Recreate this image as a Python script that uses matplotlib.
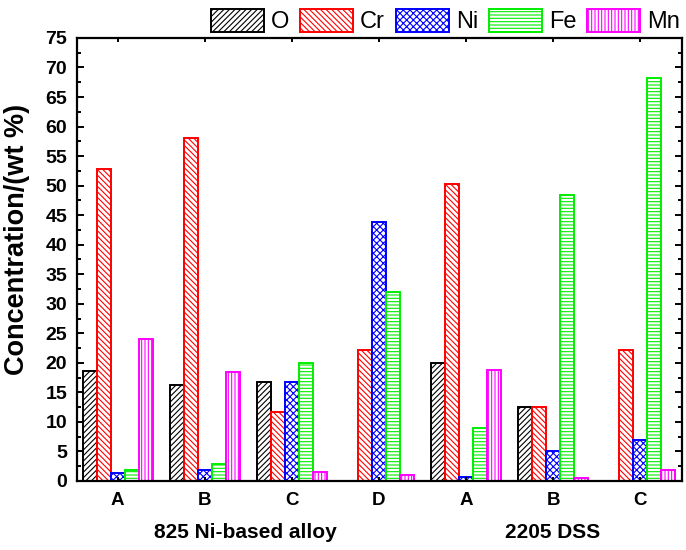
import numpy as np
import matplotlib
matplotlib.use("Agg")
import matplotlib.pyplot as plt
from matplotlib.ticker import MultipleLocator

plt.rcParams['font.family'] = ['Liberation Sans', 'DejaVu Sans']
plt.rcParams['hatch.linewidth'] = 0.8

# === Data ===
samples = ["A", "B", "C", "D", "A", "B", "C"]
elements = ["O", "Cr", "Ni", "Fe", "Mn"]
O = [18.6, 16.3, 16.8, 0.0, 19.9, 12.5, 0.0]
Cr = [52.8, 58.0, 11.6, 22.2, 50.3, 12.6, 22.2]
Ni = [1.3, 1.9, 16.7, 43.8, 0.7, 5.1, 6.9]
Fe = [1.9, 2.8, 19.9, 32.0, 8.9, 48.4, 68.3]
Mn = [24.0, 18.4, 1.5, 1.0, 18.8, 0.5, 1.8]
groups = ["825 Ni-based alloy", "2205 DSS"]

series = [O, Cr, Ni, Fe, Mn]
colors = ["black", "red", "blue", "#00ee00", "magenta"]
hatches = ["//////", "\\\\\\\\\\\\", "xxxxx", "-----", "|||||"]

# === Plot ===
fig = plt.figure(figsize=(6.86, 5.5), dpi=100)
ax = fig.add_axes([0.112, 0.1255, 0.882, 0.8055])

x = np.arange(len(samples))
w = 0.16
handles = []
for i, (vals, c, h, name) in enumerate(zip(series, colors, hatches, elements)):
    b = ax.bar(x + (i - 2) * w, vals, w, facecolor="white", edgecolor=c,
               hatch=h, linewidth=1.4, label=name)
    handles.append(b)

ax.set_xlim(-0.47, 6.48)
ax.set_ylim(0, 75)
ax.yaxis.set_major_locator(MultipleLocator(5))
ax.yaxis.set_minor_locator(MultipleLocator(2.5))
ax.set_xticks(x)
ax.set_xticklabels(samples)
ax.tick_params(which="both", direction="in", top=True, right=True, width=1.4)
ax.tick_params(which="major", length=5, labelsize=14, pad=7)
ax.tick_params(which="minor", length=3)
ax.tick_params(axis="x", which="major", length=3, labelsize=13.5, pad=8)
for lab in ax.get_xticklabels() + ax.get_yticklabels():
    lab.set_fontweight("bold")
for sp in ax.spines.values():
    sp.set_linewidth(1.6)

ax.set_ylabel("Concentration/(wt %)", fontsize=19.5, fontweight="bold")
ax.yaxis.set_label_coords(-0.078, 0.545)

fig.text(245 / 686, 1 - 532 / 550, groups[0], ha="center", va="center",
         fontsize=15, fontweight="bold")
fig.text(553 / 686, 1 - 532 / 550, groups[1], ha="center", va="center",
         fontsize=15, fontweight="bold")

fig.legend(handles=handles, loc="upper right", bbox_to_anchor=(1.012, 1.01),
           ncol=5, frameon=False, fontsize=17, handlelength=2.25,
           handleheight=1.15, columnspacing=0.45, handletextpad=0.3,
           borderaxespad=0.2)

fig.savefig("out.png", dpi=100)
